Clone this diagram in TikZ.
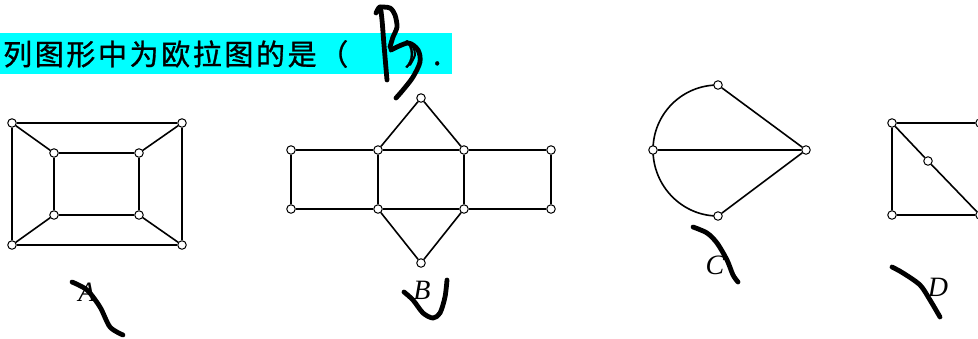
\documentclass[tikz,border=0pt]{standalone}
\usepackage{fontspec}
\setmainfont{Liberation Serif}
\newfontfamily\cjk[LetterSpace=9,FakeBold=1]{Noto Sans CJK SC}
\newfontfamily\cjkplain[FakeBold=1]{Noto Sans CJK SC}
\definecolor{hl}{RGB}{0,255,255}
\pgfdeclarelayer{bg}
\pgfsetlayers{bg,main}
\begin{document}
\begin{tikzpicture}[x=1pt,y=-1pt,
  vtx/.style={circle,draw,fill=white,inner sep=0pt,minimum size=8.5pt,line width=1pt},
  edge/.style={line width=1.6pt},
  ink/.style={line width=4.8pt,line cap=round,line join=round},
  thinink/.style={line width=2pt,line cap=round,line join=round},
  lab/.style={font=\fontsize{28}{28}\selectfont\itshape,inner sep=0pt},
  cjktext/.style={inner sep=0pt,font=\cjk\fontsize{29}{29}\selectfont}]
\useasboundingbox (0,0) rectangle (978,338);
\fill[hl] (0,33) rectangle (452,74);
\node[cjktext,anchor=west] (q) at (3,54) {列图形中为欧拉图的是（};
\node[inner sep=0pt,font=\cjkplain\fontsize{29}{29}\selectfont,anchor=west] (q2) at (404,54) {）.};
% handwritten answer B
\draw[ink] plot[smooth] coordinates {(376,13) (380,7) (382,20) (384,45) (387,80)};
\draw[ink] plot[smooth] coordinates {(380,7) (390,8) (395,15) (397,27) (393,37) (390,47)};
\draw[ink] plot[smooth] coordinates {(391,50) (408,43) (418,50) (420,62) (413,77) (403,90) (396,98)};
\draw[thinink] plot[smooth] coordinates {(408,42) (413,47) (415,55) (410,65)};

% Graph A
\node[vtx] (a1) at (12,123) {};
\node[vtx] (a2) at (182,123) {};
\node[vtx] (a3) at (182,245) {};
\node[vtx] (a4) at (12,245) {};
\node[vtx] (a5) at (54,153) {};
\node[vtx] (a6) at (139,153) {};
\node[vtx] (a7) at (139,215) {};
\node[vtx] (a8) at (54,215) {};
\begin{pgfonlayer}{bg}
\draw[edge] (a1) -- (a2) -- (a3) -- (a4) -- (a1);
\draw[edge] (a5) -- (a6) -- (a7) -- (a8) -- (a5);
\draw[edge] (a1) -- (a5) (a2) -- (a6) (a3) -- (a7) (a4) -- (a8);
\end{pgfonlayer}
\node[lab] (la) at (87,292) {A};
\draw[ink] plot[smooth] coordinates {(72,282) (87,290) (100,307) (110,327) (123,335)};

% Graph B
\node[vtx] (b0) at (421,98) {};
\node[vtx] (b1) at (291,150) {};
\node[vtx] (b2) at (378,150) {};
\node[vtx] (b3) at (464,150) {};
\node[vtx] (b4) at (551,150) {};
\node[vtx] (b5) at (291,209) {};
\node[vtx] (b6) at (378,209) {};
\node[vtx] (b7) at (464,209) {};
\node[vtx] (b8) at (551,209) {};
\node[vtx] (b9) at (421,263) {};
\begin{pgfonlayer}{bg}
\draw[edge] (b1) -- (b2) -- (b3) -- (b4) -- (b8) -- (b7) -- (b6) -- (b5) -- (b1);
\draw[edge] (b2) -- (b6) (b3) -- (b7);
\draw[edge] (b2) -- (b0) -- (b3) (b6) -- (b9) -- (b7);
\end{pgfonlayer}
\node[lab] (lb) at (422,290) {B};
\draw[ink] plot[smooth] coordinates {(404,292) (413,300) (423,313) (433,318) (440,313) (445,297) (447,280)};

% Graph C
\node[vtx] (c1) at (718,85) {};
\node[vtx] (c2) at (653,150) {};
\node[vtx] (c3) at (806,150) {};
\node[vtx] (c4) at (718,216) {};
\begin{pgfonlayer}{bg}
\draw[edge] (c1.center) .. controls +(-36,0) and +(0,-36) .. (c2.center)
  .. controls +(0,36) and +(-36,0) .. (c4.center);
\draw[edge] (c2) -- (c3) (c1) -- (c3) -- (c4);
\end{pgfonlayer}
\node[lab] (lc) at (715,265) {C};
\draw[ink] plot[smooth] coordinates {(693,227) (707,233) (717,243) (727,260) (733,275) (738,282)};

% Graph D
\node[vtx] (d1) at (892,123) {};
\node[vtx] (d2) at (980,123) {};
\node[vtx] (d3) at (892,215) {};
\node[vtx] (d4) at (980,215) {};
\node[vtx] (d5) at (928,161) {};
\begin{pgfonlayer}{bg}
\draw[edge] (d1) -- (d2) (d1) -- (d3) -- (d4) (d1) -- (d5) -- (d4);
\end{pgfonlayer}
\node[lab] (ld) at (938,287) {D};
\draw[ink] plot[smooth] coordinates {(892,267) (903,273) (920,285) (930,300) (940,317)};
\end{tikzpicture}
\end{document}
